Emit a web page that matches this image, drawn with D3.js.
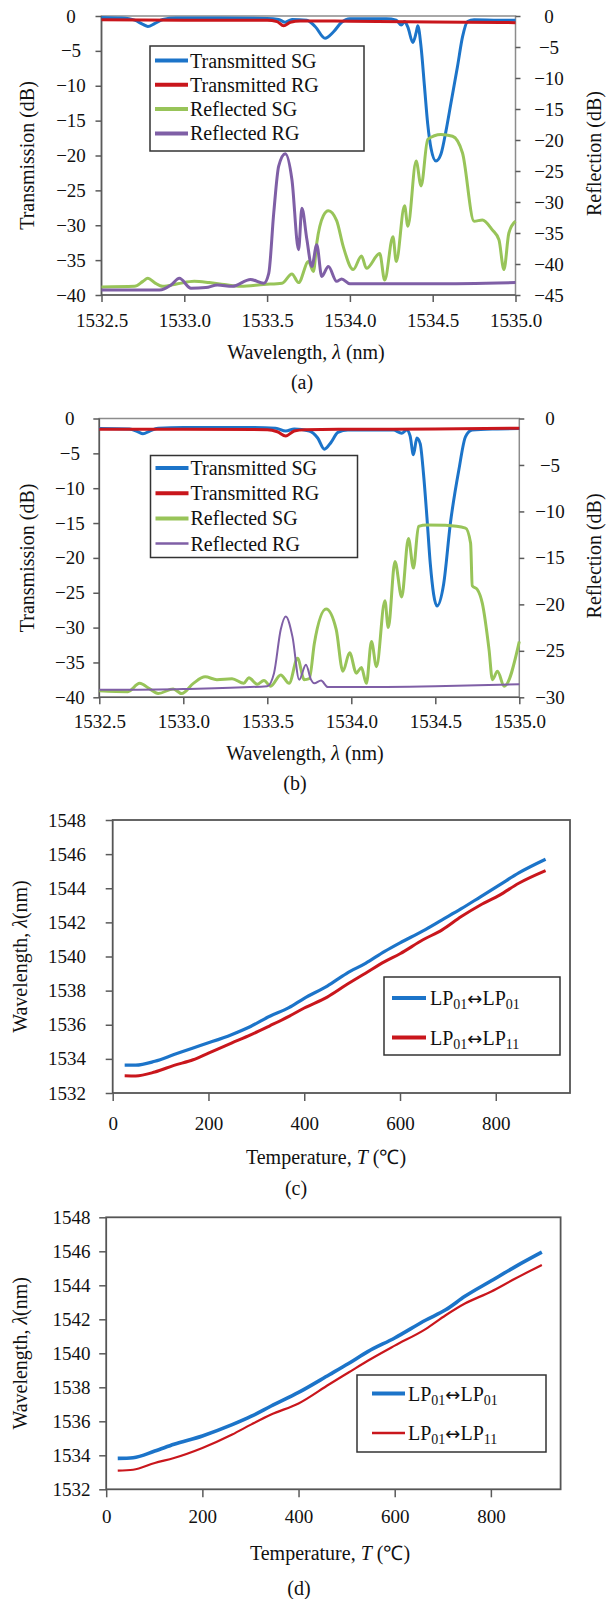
<!DOCTYPE html>
<html>
<head>
<meta charset="utf-8">
<script src="https://cdn.jsdelivr.net/npm/d3@7"></script>
<style>
  body { margin: 0; background: #fff; }
  svg text { font-family: 'Liberation Serif', 'Times New Roman', serif; fill: #111; }
</style>
</head>
<body>
<svg></svg>
<script>
// tick values
const waveTicks = [1532.5, 1533.0, 1533.5, 1534.0, 1534.5, 1535.0]
const transTicks = [0, -5, -10, -15, -20, -25, -30, -35, -40]
const reflTicksA = [0, -5, -10, -15, -20, -25, -30, -35, -40, -45]
const reflTicksB = [0, -5, -10, -15, -20, -25, -30]
const wlTicks = [1532, 1534, 1536, 1538, 1540, 1542, 1544, 1546, 1548]
const tempTicks = [0, 200, 400, 600, 800]

const seriesNames = ['Transmitted SG', 'Transmitted RG', 'Reflected SG', 'Reflected RG']
const modeNames = [['01', '01'], ['01', '11']]

// (a) spectra [wavelength nm, dB]
const transSGa = [[1532.50, -0.2], [1532.62, -0.3], [1532.70, -0.6], [1532.75, -1.2], [1532.78, -1.5], [1532.82, -1.1], [1532.87, -0.5], [1532.95, -0.3], [1533.20, -0.3], [1533.50, -0.35], [1533.57, -0.5], [1533.61, -0.9], [1533.65, -0.5], [1533.74, -0.6], [1533.79, -1.5], [1533.85, -3.2], [1533.90, -2.3], [1533.95, -0.9], [1534.00, -0.4], [1534.22, -0.4], [1534.28, -0.6], [1534.31, -1.3], [1534.33, -0.8], [1534.35, -1.6], [1534.38, -3.8], [1534.40, -2.4], [1534.41, -1.4], [1534.43, -4.5], [1534.45, -10], [1534.47, -15.5], [1534.49, -19], [1534.52, -20.8], [1534.55, -19.8], [1534.58, -16.5], [1534.61, -12.5], [1534.65, -7.2], [1534.68, -3], [1534.71, -0.8], [1534.75, -0.55], [1534.90, -0.6], [1535.00, -0.6]]
const transRGa = [[1532.50, -0.55], [1533.00, -0.6], [1533.50, -0.6], [1533.56, -0.8], [1533.60, -1.4], [1533.64, -0.9], [1533.70, -0.7], [1534.00, -0.75], [1534.50, -0.85], [1535.00, -0.95]]
const reflSGa = [[1532.50, -43.7], [1532.70, -43.6], [1532.75, -42.8], [1532.78, -42.3], [1532.82, -43.0], [1532.87, -43.6], [1532.96, -43.2], [1533.06, -42.8], [1533.15, -43.0], [1533.24, -43.3], [1533.34, -43.6], [1533.48, -43.3], [1533.59, -43.1], [1533.65, -41.6], [1533.69, -43.0], [1533.75, -39.6], [1533.78, -41.2], [1533.80, -36.6], [1533.84, -32.2], [1533.87, -31.4], [1533.92, -33.0], [1533.96, -37.2], [1534.02, -40.9], [1534.07, -38.7], [1534.10, -40.7], [1534.18, -38.3], [1534.21, -42.6], [1534.26, -35.6], [1534.28, -39.6], [1534.33, -30.6], [1534.35, -33.9], [1534.40, -23.4], [1534.43, -27.4], [1534.47, -19.9], [1534.55, -19.1], [1534.62, -19.4], [1534.68, -22.1], [1534.75, -33.1], [1534.80, -32.9], [1534.86, -34.5], [1534.90, -36.1], [1534.93, -40.9], [1534.96, -35.0], [1535.00, -33.1]]
const reflRGa = [[1532.50, -44.2], [1532.85, -44.2], [1532.92, -43.4], [1532.97, -42.3], [1533.04, -43.9], [1533.13, -43.8], [1533.20, -43.4], [1533.29, -43.6], [1533.40, -42.5], [1533.48, -43.1], [1533.51, -41.5], [1533.54, -31.8], [1533.57, -24.2], [1533.61, -22.2], [1533.65, -26.4], [1533.69, -37.7], [1533.71, -31.0], [1533.74, -36.0], [1533.77, -40.4], [1533.80, -36.9], [1533.83, -42.0], [1533.87, -40.4], [1533.92, -42.8], [1533.95, -42.4], [1534.00, -43.2], [1534.50, -43.2], [1535.00, -43.0]]

// (b) spectra
const transSGb = [[1532.50, -1.45], [1532.68, -1.5], [1532.73, -1.9], [1532.76, -2.2], [1532.80, -1.8], [1532.85, -1.4], [1533.00, -1.3], [1533.40, -1.3], [1533.55, -1.4], [1533.61, -1.8], [1533.66, -1.5], [1533.75, -1.8], [1533.80, -2.8], [1533.84, -4.4], [1533.88, -3.4], [1533.92, -2.0], [1533.98, -1.65], [1534.25, -1.65], [1534.30, -2.1], [1534.33, -1.65], [1534.35, -2.5], [1534.37, -5.2], [1534.39, -2.8], [1534.41, -3.6], [1534.43, -8], [1534.45, -14.1], [1534.47, -20.8], [1534.51, -26.9], [1534.55, -23.7], [1534.59, -15], [1534.64, -7.4], [1534.68, -2.6], [1534.72, -1.65], [1534.85, -1.5], [1535.00, -1.45]]
const transRGb = [[1532.50, -1.55], [1533.00, -1.55], [1533.50, -1.6], [1533.56, -1.9], [1533.61, -2.5], [1533.66, -1.8], [1533.72, -1.6], [1534.00, -1.55], [1534.50, -1.5], [1535.00, -1.4]]
const reflSGb = [[1532.50, -29.3], [1532.67, -29.4], [1532.74, -28.5], [1532.80, -29.1], [1532.85, -29.6], [1532.94, -29.1], [1532.99, -29.6], [1533.06, -28.5], [1533.13, -27.8], [1533.20, -28.1], [1533.29, -28.0], [1533.36, -28.5], [1533.39, -27.9], [1533.44, -28.6], [1533.48, -28.2], [1533.52, -28.8], [1533.58, -27.6], [1533.63, -28.5], [1533.68, -25.8], [1533.72, -28.1], [1533.75, -28.0], [1533.78, -24.2], [1533.85, -20.5], [1533.91, -22.7], [1533.95, -27.2], [1533.99, -25.2], [1534.03, -27.4], [1534.06, -26.8], [1534.09, -28.5], [1534.12, -24.0], [1534.15, -26.7], [1534.20, -19.6], [1534.22, -22.5], [1534.26, -15.4], [1534.30, -19.2], [1534.34, -12.9], [1534.37, -16.1], [1534.40, -11.6], [1534.45, -11.45], [1534.56, -11.5], [1534.68, -11.8], [1534.71, -13.4], [1534.72, -18.0], [1534.75, -18.4], [1534.78, -19.9], [1534.82, -24.9], [1534.84, -28.1], [1534.87, -27.2], [1534.91, -28.8], [1535.00, -24.0]]
const reflRGb = [[1532.50, -29.2], [1533.00, -29.1], [1533.50, -28.8], [1533.54, -27.4], [1533.58, -22.7], [1533.61, -21.3], [1533.65, -23.5], [1533.69, -28.1], [1533.73, -26.5], [1533.76, -28.1], [1533.78, -28.5], [1533.82, -28.2], [1533.86, -28.9], [1534.00, -28.9], [1534.50, -28.8], [1535.00, -28.6]]

// (c) resonance wavelength vs temperature
const tempC = [25, 48, 88, 128, 168, 200, 248, 288, 328, 368, 400, 448, 488, 528, 568, 600, 648, 688, 728, 768, 808, 848, 904]
const lp01C = [1533.63, 1533.63, 1533.86, 1534.25, 1534.64, 1534.94, 1535.42, 1535.9, 1536.5, 1537.0, 1537.55, 1538.27, 1539.0, 1539.6, 1540.3, 1540.8, 1541.5, 1542.15, 1542.8, 1543.5, 1544.2, 1544.9, 1545.7]
const lp11C = [1533.01, 1533.0, 1533.23, 1533.62, 1533.95, 1534.34, 1534.93, 1535.41, 1535.94, 1536.49, 1536.98, 1537.62, 1538.34, 1539.02, 1539.7, 1540.16, 1540.98, 1541.56, 1542.34, 1543.02, 1543.6, 1544.29, 1545.03]

// (d)
const tempD = [24, 56, 101, 141, 200, 262, 302, 343, 400, 464, 504, 544, 600, 665, 706, 746, 800, 851, 906]
const lp01D = [1533.82, 1533.86, 1534.25, 1534.65, 1535.14, 1535.8, 1536.3, 1536.9, 1537.7, 1538.74, 1539.4, 1540.1, 1540.9, 1541.96, 1542.56, 1543.35, 1544.25, 1545.1, 1545.95]
const lp11D = [1533.1, 1533.15, 1533.55, 1533.84, 1534.43, 1535.22, 1535.82, 1536.4, 1537.05, 1538.18, 1538.87, 1539.56, 1540.45, 1541.44, 1542.24, 1542.93, 1543.62, 1544.4, 1545.2]

const blue = '#1c74c9',
  red = '#c9161c',
  green = '#98c459',
  purple = '#7f5fa6',
  axisColor = '#5a5a5a',
  serif = "'Liberation Serif', 'Times New Roman', serif"

const svg = d3.select('svg')
  .attr('width', 607)
  .attr('height', 1599)
  .attr('font-family', serif)

svg.append('rect')
  .attr('width', 607)
  .attr('height', 1599)
  .attr('fill', '#fff')

function styleAxis(g) {
  g.attr('font-family', serif).attr('font-size', 19)
  g.select('.domain').remove()
  g.selectAll('.tick line').attr('stroke', axisColor).attr('stroke-width', 1.5)
  g.selectAll('.tick text')
    .attr('font-family', serif)
    .attr('font-size', 19)
    .attr('fill', '#111')
}

function frame(p) {
  svg.append('rect')
    .attr('x', p.left).attr('y', p.top)
    .attr('width', p.right - p.left).attr('height', p.bottom - p.top)
    .attr('fill', 'none')
    .attr('stroke', '#8c8c8c')
    .attr('stroke-width', 1.5)
  svg.append('path')
    .attr('d', `M${p.left},${p.top}V${p.bottom}H${p.right}`)
    .attr('fill', 'none')
    .attr('stroke', axisColor)
    .attr('stroke-width', 1.6)
}

function italicTitle(x, y, pre, it, post, rot) {
  const t = svg.append('text')
    .attr('x', x).attr('y', y)
    .attr('text-anchor', 'middle')
    .attr('dy', '0.35em')
    .attr('font-size', 20)
  if (rot) t.attr('transform', `rotate(-90,${x},${y})`)
  t.append('tspan').text(pre)
  t.append('tspan').attr('font-style', 'italic').text(it)
  t.append('tspan').text(post)
}

function plainText(x, y, s, size, rot) {
  const t = svg.append('text')
    .attr('x', x).attr('y', y)
    .attr('text-anchor', 'middle')
    .attr('dy', '0.35em')
    .attr('font-size', size)
    .text(s)
  if (rot) t.attr('transform', `rotate(-90,${x},${y})`)
}

function drawSpectrum(p) {
  const x = d3.scaleLinear().domain([1532.5, 1535]).range([p.left, p.right])
  const yL = d3.scaleLinear().domain([-40, 0]).range([p.bottom, p.top])
  const yR = d3.scaleLinear().domain([p.reflTicks[p.reflTicks.length - 1], 0]).range([p.bottom, p.top])

  frame(p)

  svg.append('g')
    .attr('transform', `translate(0,${p.bottom})`)
    .call(d3.axisBottom(x).tickValues(waveTicks).tickFormat(d3.format('.1f')).tickSize(7))
    .call(styleAxis)
    .selectAll('.tick text').attr('y', p.xLabelOff).attr('dy', '0.35em')

  svg.append('g')
    .attr('transform', `translate(${p.left},0)`)
    .call(d3.axisLeft(yL).tickValues(transTicks).tickSize(6))
    .call(styleAxis)
    .selectAll('.tick text').attr('x', p.leftLabelOff).attr('text-anchor', 'middle')

  svg.append('g')
    .attr('transform', `translate(${p.right},0)`)
    .call(d3.axisRight(yR).tickValues(p.reflTicks).tickSize(5))
    .call(styleAxis)
    .selectAll('.tick text').attr('x', p.rightLabelOff).attr('text-anchor', 'middle')

  const lineL = d3.line().x(d => x(d[0])).y(d => yL(d[1])).curve(d3.curveMonotoneX)
  const lineR = d3.line().x(d => x(d[0])).y(d => yR(d[1])).curve(d3.curveMonotoneX)

  const series = [
    { data: p.series[0], line: lineL, color: blue },
    { data: p.series[1], line: lineL, color: red },
    { data: p.series[2], line: lineR, color: green },
    { data: p.series[3], line: lineR, color: purple }
  ]

  series.forEach((s, i) => {
    svg.append('path')
      .datum(s.data)
      .attr('d', s.line)
      .attr('fill', 'none')
      .attr('stroke', s.color)
      .attr('stroke-width', p.widths[i])
      .attr('stroke-linejoin', 'round')
  })

  // legend
  const lg = p.legend
  svg.append('rect')
    .attr('x', lg.x).attr('y', lg.y).attr('width', lg.w).attr('height', lg.h)
    .attr('fill', '#fff').attr('stroke', '#333').attr('stroke-width', 1.5)
  seriesNames.forEach((name, i) => {
    const yy = lg.y0 + i * lg.step
    svg.append('line')
      .attr('x1', lg.x + 5).attr('x2', lg.x + 38)
      .attr('y1', yy).attr('y2', yy)
      .attr('stroke', series[i].color)
      .attr('stroke-width', p.legendWidths[i])
    svg.append('text')
      .attr('x', lg.x + 40).attr('y', yy)
      .attr('dy', '0.35em')
      .attr('font-size', 20)
      .text(name)
  })

  plainText(p.yTitleX, (p.top + p.bottom) / 2, 'Transmission (dB)', 20, true)
  plainText(594, (p.top + p.bottom) / 2 - 2, 'Reflection (dB)', 20, true)
  italicTitle(p.titleX, p.titleY, 'Wavelength, ', 'λ', ' (nm)')
  plainText(p.tagX, p.tagY, p.tag, 20)
}

function modeLabel(t, a, b) {
  t.append('tspan').text('LP')
  t.append('tspan').attr('font-size', 14).attr('dy', 4).text(a)
  t.append('tspan').attr('dy', -4).attr('font-family', 'DejaVu Sans').attr('font-size', 18).text('↔')
  t.append('tspan').text('LP')
  t.append('tspan').attr('font-size', 14).attr('dy', 4).text(b)
}

function drawTemp(p) {
  const x = d3.scaleLinear().domain([0, p.xMax]).range([p.left, p.right])
  const y = d3.scaleLinear().domain([1532, 1548]).range([p.bottom, p.top])

  svg.append('rect')
    .attr('x', p.left).attr('y', p.top)
    .attr('width', p.right - p.left).attr('height', p.bottom - p.top)
    .attr('fill', 'none')
    .attr('stroke', '#555')
    .attr('stroke-width', 1.8)

  svg.append('g')
    .attr('transform', `translate(0,${p.bottom})`)
    .call(d3.axisBottom(x).tickValues(tempTicks).tickFormat(d3.format('d')).tickSize(8))
    .call(styleAxis)
    .selectAll('.tick text').attr('y', p.xLabelOff).attr('dy', '0.35em')

  svg.append('g')
    .attr('transform', `translate(${p.left},0)`)
    .call(d3.axisLeft(y).tickValues(wlTicks).tickFormat(d3.format('d')).tickSize(7))
    .call(styleAxis)
    .selectAll('.tick text').attr('x', p.leftLabelOff).attr('text-anchor', 'middle')

  const line = d3.line()
    .x(d => x(d[0]))
    .y(d => y(d[1]))
    .curve(d3.curveMonotoneX)

  const series = [
    { data: d3.zip(p.temp, p.lp01), color: blue },
    { data: d3.zip(p.temp, p.lp11), color: red }
  ]

  series.forEach((s, i) => {
    svg.append('path')
      .datum(s.data)
      .attr('d', line)
      .attr('fill', 'none')
      .attr('stroke', s.color)
      .attr('stroke-width', p.widths[i])
      .attr('stroke-linejoin', 'round')
  })

  const lg = p.legend
  svg.append('rect')
    .attr('x', lg.x).attr('y', lg.y).attr('width', lg.w).attr('height', lg.h)
    .attr('fill', '#fff').attr('stroke', '#333').attr('stroke-width', 1.5)
  modeNames.forEach((m, i) => {
    const yy = lg.y0 + i * lg.step
    svg.append('line')
      .attr('x1', lg.x + lg.s0).attr('x2', lg.x + lg.s1)
      .attr('y1', yy).attr('y2', yy)
      .attr('stroke', series[i].color)
      .attr('stroke-width', p.legendWidths[i])
    const t = svg.append('text')
      .attr('x', lg.x + lg.tx).attr('y', yy + 7)
      .attr('font-size', 20)
    modeLabel(t, m[0], m[1])
  })

  italicTitle(20, (p.top + p.bottom) / 2, 'Wavelength, ', 'λ', '(nm)', true)
  italicTitle(p.titleX, p.titleY, 'Temperature, ', 'T', ' (℃)')
  plainText(p.tagX, p.tagY, p.tag, 20)
}

drawSpectrum({
  left: 101.5, right: 515.5, top: 16, bottom: 295,
  reflTicks: reflTicksA,
  series: [transSGa, transRGa, reflSGa, reflRGa],
  widths: [3, 3, 3, 3],
  legendWidths: [4, 4, 4, 4],
  xLabelOff: 25, leftLabelOff: -30.5, rightLabelOff: 33.5,
  legend: { x: 150, y: 46, w: 214, h: 105, y0: 60.5, step: 24.3 },
  yTitleX: 27,
  titleX: 306, titleY: 352,
  tag: '(a)', tagX: 302, tagY: 382
})

drawSpectrum({
  left: 99.3, right: 519.3, top: 418.5, bottom: 697.3,
  reflTicks: reflTicksB,
  series: [transSGb, transRGb, reflSGb, reflRGb],
  widths: [3, 3, 3, 2],
  legendWidths: [4, 4, 4, 2.5],
  xLabelOff: 24.5, leftLabelOff: -29.5, rightLabelOff: 30.7,
  legend: { x: 150.5, y: 455.5, w: 207, h: 102, y0: 468, step: 25.2 },
  yTitleX: 27,
  titleX: 305, titleY: 753,
  tag: '(b)', tagX: 295, tagY: 783
})

drawTemp({
  left: 112.7, right: 570, top: 820, bottom: 1093,
  xMax: 955,
  temp: tempC, lp01: lp01C, lp11: lp11C,
  widths: [3.2, 3],
  legendWidths: [4, 4],
  xLabelOff: 30, leftLabelOff: -45.7,
  legend: { x: 384, y: 977, w: 176, h: 78, y0: 998, step: 39.5, s0: 8, s1: 42, tx: 46 },
  titleX: 326, titleY: 1157,
  tag: '(c)', tagX: 296, tagY: 1188
})

drawTemp({
  left: 106.2, right: 560.6, top: 1217.3, bottom: 1489.3,
  xMax: 945,
  temp: tempD, lp01: lp01D, lp11: lp11D,
  widths: [3.6, 2.2],
  legendWidths: [4, 2.5],
  xLabelOff: 27, leftLabelOff: -34.7,
  legend: { x: 357, y: 1375, w: 189, h: 77, y0: 1393.5, step: 39.5, s0: 15, s1: 48, tx: 51 },
  titleX: 330, titleY: 1553,
  tag: '(d)', tagX: 299, tagY: 1588
})
</script>
</body>
</html>
